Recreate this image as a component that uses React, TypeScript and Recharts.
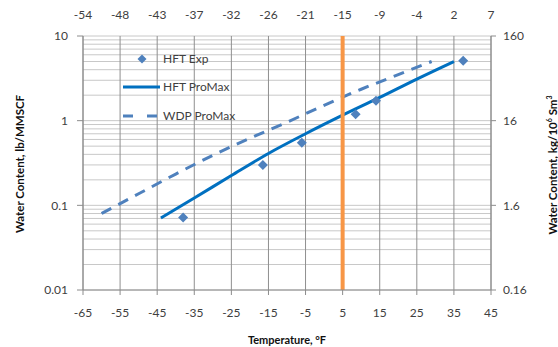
import React from 'react';
import { ComposedChart, Line, XAxis, YAxis, CartesianGrid, ReferenceLine } from 'recharts';

// ---- data ----
const hftExpTemp = [-38, -16.5, -6, 8.5, 14, 37.5];
const hftExpWater = [0.072, 0.3, 0.55, 1.19, 1.72, 5.1];

const hftProMaxTemp = [-44, -35, -25, -15, -5, 5, 15, 25, 35];
const hftProMaxWater = [0.071, 0.122, 0.225, 0.41, 0.7, 1.16, 1.88, 3.1, 5.0];

const wdpProMaxTemp = [-60, -50, -40, -30, -20, -10, 0, 10, 20, 29];
const wdpProMaxWater = [0.08, 0.137, 0.234, 0.39, 0.62, 0.96, 1.52, 2.35, 3.5, 5.0];

const hydrateTemp = 5;

// ---- ticks / labels ----
const xTicksF = [-65, -55, -45, -35, -25, -15, -5, 5, 15, 25, 35, 45];
const xTickLabelsC = ['-54', '-48', '-43', '-37', '-32', '-26', '-21', '-15', '-9', '-4', '2', '7'];
const yDecades = [0.01, 0.1, 1, 10];
const yDecadeLabels = ['0.01', '0.1', '1', '10'];
const yMinorMultipliers = [1, 2, 3, 4, 5, 6, 7, 8, 9];
const yRightTicks = [0.16, 1.6, 16, 160];
const yRightLabels = ['0.16', '1.6', '16', '160'];

const toPoints = (xs: number[], ys: number[]) => xs.map((x, i) => ({ x, y: ys[i] }));
const hftExpData = toPoints(hftExpTemp, hftExpWater);
const hftProMaxData = toPoints(hftProMaxTemp, hftProMaxWater);
const wdpProMaxData = toPoints(wdpProMaxTemp, wdpProMaxWater);

const leftTicks: number[] = [];
yDecades.slice(0, -1).forEach((d) => yMinorMultipliers.forEach((m) => leftTicks.push(+(d * m).toPrecision(6))));
leftTicks.push(yDecades[yDecades.length - 1]);

const FONT = "Lato, 'Open Sans', sans-serif";
const TICK_COLOR = '#404040';
const AXIS_COLOR = '#8c8c8c';
const SOLID_BLUE = '#0070C0';
const DASH_BLUE = '#4F81BD';
const ORANGE = '#F79646';

const LeftTick = (props: any) => {
  const { x, y, payload } = props;
  const v = payload.value;
  const idx = yDecades.findIndex((d) => Math.abs(d - v) < d * 1e-6);
  if (idx < 0) return <g />;
  return (
    <g>
      <line x1={x + 9} x2={x + 15} y1={y} y2={y} stroke={AXIS_COLOR} />
      <text x={x} y={y} dy="0.355em" textAnchor="end" fontSize={12} fontFamily={FONT} fill={TICK_COLOR}>
        {yDecadeLabels[idx]}
      </text>
    </g>
  );
};

const TopTick = (props: any) => {
  const { x, y, payload, index } = props;
  const i = typeof index === 'number' ? index : xTicksF.indexOf(payload.value);
  return (
    <text x={x} y={y} textAnchor="middle" fontSize={12} fontFamily={FONT} fill={TICK_COLOR}>
      {xTickLabelsC[i]}
    </text>
  );
};

const Diamond = (props: any) => {
  const { cx, cy } = props;
  if (cx == null || cy == null) return <g />;
  const r = 5;
  return (
    <path
      d={`M${cx},${cy - r}L${cx + r},${cy}L${cx},${cy + r}L${cx - r},${cy}Z`}
      fill={DASH_BLUE}
    />
  );
};

export default function App() {
  return (
    <div style={{ position: 'absolute', left: 0, top: 0, width: 558, height: 347, background: '#fff' }}>
      <ComposedChart width={558} height={347} margin={{ top: 0, right: 0, bottom: 0, left: 0 }}>
        <CartesianGrid vertical={false} stroke="#c8c8c8" />
        <CartesianGrid horizontal={false} stroke="#8f8f8f" />
        <XAxis
          dataKey="x"
          type="number"
          domain={[-65, 45]}
          ticks={xTicksF}
          height={57}
          tickSize={5}
          tickMargin={13}
          stroke={AXIS_COLOR}
          tick={{ fontSize: 12, fontFamily: FONT, fill: TICK_COLOR }}
          allowDataOverflow
        />
        <XAxis
          xAxisId="top"
          dataKey="x"
          orientation="top"
          type="number"
          domain={[-65, 45]}
          ticks={xTicksF}
          height={36}
          axisLine={false}
          tickLine={false}
          tickSize={5}
          tickMargin={12}
          tick={<TopTick />}
          interval={0}
          allowDataOverflow
        />
        <YAxis
          dataKey="y"
          type="number"
          scale="log"
          domain={[0.01, 10]}
          ticks={leftTicks}
          width={83}
          tickSize={6}
          tickMargin={9}
          tickLine={false}
          stroke={AXIS_COLOR}
          tick={<LeftTick />}
          interval={0}
          allowDataOverflow
        />
        <YAxis
          yAxisId="right"
          orientation="right"
          type="number"
          scale="log"
          domain={[0.16, 160]}
          ticks={yRightTicks}
          width={67}
          tickSize={5}
          tickMargin={7}
          stroke={AXIS_COLOR}
          tickFormatter={(_v: number, i: number) => yRightLabels[i]}
          tick={{ fontSize: 12, fontFamily: FONT, fill: TICK_COLOR }}
          interval={0}
          allowDataOverflow
        />
        {/* invisible series binding the °C axis so it is laid out */}
        <Line
          xAxisId="top"
          data={hftExpData}
          dataKey="y"
          stroke="none"
          dot={false}
          activeDot={false}
          legendType="none"
          isAnimationActive={false}
        />
        <Line
          data={wdpProMaxData}
          dataKey="y"
          type="monotone"
          stroke={DASH_BLUE}
          strokeWidth={3}
          strokeDasharray="11 8"
          dot={false}
          activeDot={false}
          isAnimationActive={false}
        />
        <Line
          data={hftProMaxData}
          dataKey="y"
          type="monotone"
          stroke={SOLID_BLUE}
          strokeWidth={3}
          dot={false}
          activeDot={false}
          isAnimationActive={false}
        />
        <Line
          data={hftExpData}
          dataKey="y"
          stroke="none"
          dot={(p: any) => <Diamond key={`d-${p.index}`} {...p} />}
          activeDot={false}
          isAnimationActive={false}
        />
        <ReferenceLine x={hydrateTemp} stroke={ORANGE} strokeWidth={4} />
      </ComposedChart>
      <svg
        width={558}
        height={347}
        style={{ position: 'absolute', left: 0, top: 0, pointerEvents: 'none' }}
      >
        {/* legend */}
        <path d="M142,54.5L146.5,59L142,63.5L137.5,59Z" fill={DASH_BLUE} />
        <text x={163} y={59} dy="0.35em" fontSize={12} fontFamily={FONT} fill={TICK_COLOR}>HFT Exp</text>
        <line x1={123} x2={160} y1={87} y2={87} stroke={SOLID_BLUE} strokeWidth={3} />
        <text x={163} y={87} dy="0.35em" fontSize={12} fontFamily={FONT} fill={TICK_COLOR}>HFT ProMax</text>
        <line x1={123} x2={160} y1={116} y2={116} stroke={DASH_BLUE} strokeWidth={3} strokeDasharray="10 14" />
        <text x={163} y={116} dy="0.35em" fontSize={12} fontFamily={FONT} fill={TICK_COLOR}>WDP ProMax</text>
        {/* axis titles */}
        <text x={287} y={340} dy="0.35em" textAnchor="middle" fontSize={11} fontWeight="bold" fontFamily={FONT} fill="#111">
          Temperature, °F
        </text>
        <text
          transform="translate(20,164) rotate(-90)"
          dy="0.35em"
          textAnchor="middle"
          fontSize={11.5}
          fontWeight="bold"
          fontFamily={FONT}
          fill="#111"
        >
          Water Content, lb/MMSCF
        </text>
        <text
          transform="translate(553,165) rotate(-90)"
          dy="0.35em"
          textAnchor="middle"
          fontSize={11.5}
          fontWeight="bold"
          fontFamily={FONT}
          fill="#111"
        >
          Water Content, kg/10
          <tspan fontSize={7} dy="-5">6</tspan>
          <tspan dy="5"> Sm</tspan>
          <tspan fontSize={7} dy="-5">3</tspan>
        </text>
      </svg>
    </div>
  );
}
